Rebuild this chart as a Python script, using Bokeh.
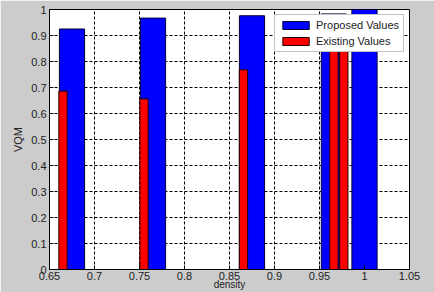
from bokeh.plotting import figure
from bokeh.models import Legend, LegendItem, FixedTicker, Range1d
from bokeh.embed import file_html
from bokeh.resources import INLINE

# data
proposed_x = [0.675, 0.765, 0.875, 0.966, 1.0]
proposed_y = [0.925, 0.967, 0.976, 0.983, 1.0]
existing_x = [0.665, 0.755, 0.8655, 0.966, 0.977]
existing_y = [0.686, 0.656, 0.768, 0.95, 0.96]
x_ticks = [0.65, 0.7, 0.75, 0.8, 0.85, 0.9, 0.95, 1.0, 1.05]
x_tick_labels = ["0.65", "0.7", "0.75", "0.8", "0.85", "0.9", "0.95", "1", "1.05"]
y_ticks = [0, 0.1, 0.2, 0.3, 0.4, 0.5, 0.6, 0.7, 0.8, 0.9, 1.0]
y_tick_labels = ["0", "0.1", "0.2", "0.3", "0.4", "0.5", "0.6", "0.7", "0.8", "0.9", "1"]

FONT = "Liberation Sans"

p = figure(width=434, height=292, output_backend="svg", toolbar_location=None,
           x_range=Range1d(0.65, 1.05), y_range=Range1d(0, 1.0),
           min_border_left=49, min_border_right=25, min_border_top=9, min_border_bottom=23)
p.background_fill_color = "white"
p.border_fill_color = "#cccccc"
p.outline_line_color = "black"
p.outline_line_width = 1

blue = p.vbar(x=proposed_x, top=proposed_y, bottom=0, width=0.028,
              fill_color="#0000ff", line_color="#000033", line_width=1)
red = p.vbar(x=existing_x, top=existing_y, bottom=0, width=0.0092,
             fill_color="#ff0000", line_color="#220000", line_width=1)

for ax in (p.xaxis[0], p.yaxis[0]):
    ax.major_tick_in = 4
    ax.major_tick_out = 0
    ax.minor_tick_line_color = None
    ax.axis_line_color = "black"
    ax.major_tick_line_color = "black"
    ax.major_label_text_font = FONT
    ax.major_label_text_font_size = "11px"
    ax.major_label_text_color = "#222222"
    ax.major_label_standoff = 2

p.xaxis.ticker = FixedTicker(ticks=x_ticks)
p.xaxis.major_label_overrides = {t: l for t, l in zip(x_ticks, x_tick_labels)}
p.xaxis.axis_label = "density"
p.xaxis.axis_label_text_font = FONT
p.xaxis.axis_label_text_font_size = "10px"
p.xaxis.axis_label_text_font_style = "normal"
p.xaxis.axis_label_text_color = "#222222"
p.xaxis.axis_label_standoff = -4

p.yaxis.ticker = FixedTicker(ticks=y_ticks)
p.yaxis.major_label_overrides = {t: l for t, l in zip(y_ticks, y_tick_labels)}
p.yaxis.major_label_standoff = 3
p.yaxis.axis_label = "VQM"
p.yaxis.axis_label_text_font = FONT
p.yaxis.axis_label_text_font_size = "11px"
p.yaxis.axis_label_text_font_style = "normal"
p.yaxis.axis_label_text_color = "#222222"
p.yaxis.axis_label_standoff = 4

for g in (p.xgrid[0], p.ygrid[0]):
    g.grid_line_color = "black"
    g.grid_line_dash = "3 2"
    g.grid_line_width = 1
    g.grid_line_alpha = 1.0
p.xgrid.ticker = FixedTicker(ticks=x_ticks)
p.ygrid.ticker = FixedTicker(ticks=y_ticks)

legend = Legend(items=[LegendItem(label="Proposed Values", renderers=[blue]),
                       LegendItem(label="Existing Values", renderers=[red])],
                location="top_right")
legend.label_text_font = FONT
legend.label_text_font_size = "11px"
legend.label_text_color = "#222222"
legend.glyph_width = 33
legend.glyph_height = 10
legend.spacing = 4
legend.padding = 4
legend.margin = 5
legend.label_standoff = 4
legend.border_line_color = "#888888"
legend.border_line_width = 1
legend.background_fill_color = "white"
legend.background_fill_alpha = 1.0
legend.label_height = 10
p.add_layout(legend)

open("out.html", "w").write(file_html(p, INLINE))
